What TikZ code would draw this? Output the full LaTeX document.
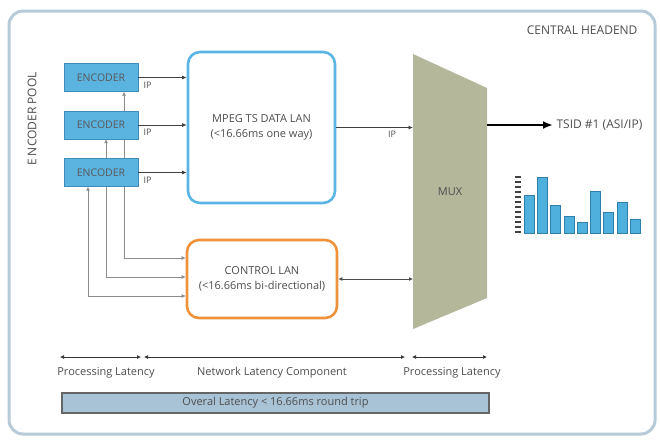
\documentclass[tikz,border=0pt]{standalone}
\usepackage{fontspec}
\setmainfont{Open Sans}
\usetikzlibrary{arrows.meta,backgrounds}
\definecolor{txtgray}{HTML}{4E4E4E}
\definecolor{encblue}{HTML}{5BB3E0}
\definecolor{encline}{HTML}{3D8DB8}
\definecolor{lanblue}{HTML}{5AB4E4}
\definecolor{lanorange}{HTML}{F0923A}
\definecolor{muxolive}{HTML}{B5B79A}
\definecolor{panelline}{HTML}{B7CAD7}
\definecolor{barfill}{HTML}{A9C3D6}
\definecolor{chartblue}{HTML}{4FB0DE}
\definecolor{chartline}{HTML}{2F7FA8}
\begin{document}
\begin{tikzpicture}[x=1pt, y=-1pt, font=\fontsize{11}{15}\selectfont, text=txtgray,
  enc/.style={draw=encline, fill=encblue, minimum width=74pt, minimum height=28pt, inner sep=0pt,
    text=black!65, font=\fontsize{10.5}{11}\selectfont},
  lan/.style={rounded corners=12pt, line width=2.6pt, fill=white, align=center, inner sep=0pt},
  data/.style={draw=black!75, line width=0.8pt, -{Latex[length=4.5pt,width=4pt]}},
  ctl/.style={draw=black!45, line width=0.9pt, {Latex[length=4pt,width=4pt]}-{Latex[length=4pt,width=4pt]}},
  span/.style={draw=black!80, line width=0.7pt, {Latex[length=4pt,width=4pt]}-{Latex[length=4pt,width=4pt]}},
  small/.style={font=\fontsize{9}{10}\selectfont},
  big/.style={font=\fontsize{12}{14}\selectfont}]

  \useasboundingbox (0,0) rectangle (660,440);

  % panel
  \begin{scope}[on background layer]
    \draw[panelline, line width=3pt, rounded corners=14pt, fill=white] (9,11) rectangle (655,434);
  \end{scope}
  \node[big, anchor=east] (head) at (641,30) {CENTRAL HEADEND};
  \node[big, rotate=90] (pool) at (32,119) {E NCODER POOL};

  % encoders
  \node[enc] (e1) at (101,77.5) {ENCODER};
  \node[enc] (e2) at (101,125) {ENCODER};
  \node[enc] (e3) at (101,172.5) {ENCODER};

  % lans
  \node[lan, draw=lanblue, minimum width=147pt, minimum height=151pt] (mpeg) at (261.5,127.5)
    {MPEG TS DATA LAN\\(<16.66ms one way)};
  \node[lan, draw=lanorange, minimum width=150pt, minimum height=78pt] (ctrl) at (262,279)
    {CONTROL LAN\\(<16.66ms bi-directional)};

  % mux
  \fill[muxolive] (413,54) -- (487,88) -- (487,298) -- (413,329) -- cycle;
  \coordinate (muxW) at (413,192);
  \coordinate (muxE) at (487,192);
  \node (mux) at (450,192) {MUX};

  % data path
  \foreach \e in {e1,e2,e3} {
    \draw[data] (\e.east) -- (\e.east -| mpeg.west);
    \node[small, anchor=north west] at ([xshift=2pt,yshift=-1pt]\e.east) {IP};
  }
  \draw[data] (mpeg.east) -- (mpeg.east -| muxW);
  \node[small] (ipmux) at (392,134) {IP};
  \node[big, anchor=west] (tsid) at (553,125) {TSID \#1 (ASI/IP)};
  \draw[line width=2pt, -{Latex[length=10pt,width=8pt]}] (muxE |- tsid.west) -- (tsid.west);

  % control path
  \begin{scope}[on background layer]
    \draw[ctl] ([xshift=23pt]e1.south) |- ([yshift=21pt]ctrl.west);
    \draw[ctl] ([xshift=5pt]e2.south) |- ([yshift=2pt]ctrl.west);
    \draw[ctl] ([xshift=-13pt]e3.south) |- ([yshift=-17pt]ctrl.west);
  \end{scope}
  \draw[ctl, draw=black!70] (ctrl.east) -- (ctrl.east -| muxW);

  % bitrate chart
  \foreach \t in {0,...,11}
    \draw[black!75, line width=2pt] (515,{177+5*\t}) -- (521,{177+5*\t});
  \foreach \bx/\top in {524/195, 537.3/177, 550.6/205, 563.9/216, 577.2/222,
                         590.5/191, 603.8/212, 617.1/202, 630.4/219}
    \draw[chartline, fill=chartblue, line width=0.8pt] (\bx,233) rectangle ({\bx+10},\top);

  % latency
  \coordinate (l0) at (60,357);
  \coordinate (l1) at (141,357);
  \coordinate (l2) at (144,357);
  \coordinate (l3) at (405,357);
  \coordinate (l4) at (412,357);
  \coordinate (l5) at (487,357);
  \draw[span] (l0) -- (l1);
  \draw[span] (l2) -- (l3);
  \draw[span] (l4) -- (l5);
  \node (proc1) at (106,373) {Processing Latency};
  \node (net) at (272,373) {Network Latency Component};
  \node (proc2) at (452,373) {Processing Latency};
  \node[draw=black!60, line width=1.2pt, fill=barfill, minimum width=427pt, minimum height=20pt,
    inner sep=0pt] (total) at (275.5,403) {Overal Latency < 16.66ms round trip};

\end{tikzpicture}
\end{document}
